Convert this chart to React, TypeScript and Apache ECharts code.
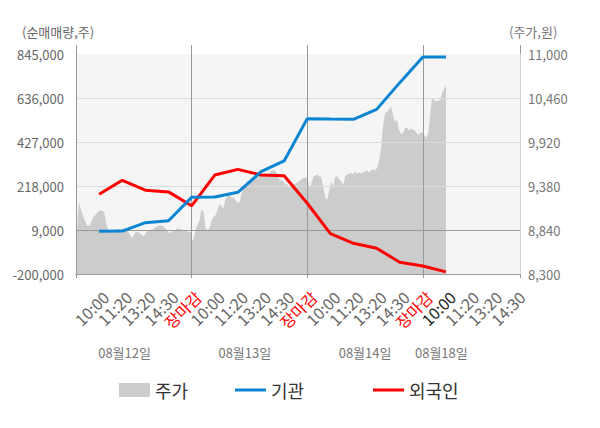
import React, { useEffect, useRef } from 'react';
import * as echarts from 'echarts';

const dates = ['08월12일', '08월13일', '08월14일', '08월18일'];
const dateLabelPos = [2.1, 7.3, 12.5, 15.8];
const timeLabels = ['10:00', '11:20', '13:20', '14:30', '장마감'];
const slotsPerDay = [5, 5, 5, 1];

// 기관 / 외국인 cumulative net buying at each time slot (10:00, 11:20, 13:20, 14:30, close ...)
const institution = [3000, 4000, 44000, 53000, 164000, 166000, 188000, 286000, 337000, 538000, 536000, 535000, 582000, 709000, 831000, 831000];
const foreign = [179000, 245000, 198000, 190000, 124000, 270000, 297000, 270000, 267000, 136000, -8000, -54000, -78000, -144000, -162000, -190000];

// 주가 (price) by day
const priceDay1 = [8590, 9180, 9060, 8970, 8890, 8900, 8990, 9030, 9070, 9080, 9060, 8870, 8830, 8810, 8840, 8850, 8840, 8860, 8850, 8790, 8740, 8810, 8820, 8790, 8760, 8820, 8830, 8840, 8870, 8890, 8900, 8890, 8850, 8800, 8820, 8830, 8860, 8850, 8840, 8830, 8810, 8820];
const priceDay2 = [8710, 8730, 8840, 8900, 8960, 9100, 9060, 8860, 8840, 8860, 8960, 9000, 9020, 9090, 9160, 9130, 9100, 9220, 9260, 9270, 9240, 9240, 9210, 9170, 9180, 9280, 9350, 9380, 9450, 9420, 9440, 9480, 9490, 9500, 9520, 9530, 9520, 9540, 9520, 9520, 9570, 9570, 9560, 9520, 9460, 9450, 9440, 9400, 9400, 9360, 9390, 9400, 9410, 9420, 9440, 9460, 9480, 9480, 9480];
const priceDay3 = [9480, 9370, 9400, 9490, 9510, 9520, 9500, 9490, 9370, 9240, 9210, 9320, 9440, 9370, 9490, 9500, 9460, 9440, 9390, 9500, 9520, 9530, 9540, 9520, 9560, 9530, 9550, 9530, 9550, 9560, 9570, 9550, 9570, 9590, 9570, 9600, 9690, 9830, 10110, 10270, 10290, 10320, 10360, 10250, 10170, 10190, 10070, 10020, 10020, 10090, 10100, 10060, 10090, 10070, 10060, 10020, 10010, 10040, 10030];
const priceDay4 = [10020, 10000, 9970, 10030, 10230, 10440, 10450, 10410, 10430, 10420, 10460, 10520, 10580, 10610];

const LEFT_MIN = -200000;
const LEFT_MAX = 845000;
const LEFT_STEP = 209000;
const RIGHT_MIN = 8300;
const RIGHT_MAX = 11000;
const RIGHT_STEP = 540;
const REF_LINE = 9000;

const leftAxisName = '(순매매량,주)';
const rightAxisName = '(주가,원)';

const FONT = 'Noto Sans CJK KR';

export default function App() {
  const ref = useRef<HTMLDivElement>(null);

  useEffect(() => {
    const chart = echarts.init(ref.current!, null, { renderer: 'svg' });
    const slotsTotal = 5;
    const priceDays = [priceDay1, priceDay2, priceDay3, priceDay4];
    const priceData: number[][] = [];
    priceDays.forEach((arr, d) => {
      const start = d * slotsTotal;
      const span = slotsPerDay[d];
      arr.forEach((v, i) => priceData.push([start + (i * span) / (arr.length - 1), v]));
    });
    const instData = institution.map((v, i) => [i + 1, v]);
    const forData = foreign.map((v, i) => [i + 1, v]);
    const current = institution.length;
    const labelCount = (dates.length - 1) * slotsTotal + timeLabels.length - 1;
    const xMax = 19.2;
    const boundaries = dates.slice(1).map((_, i) => (i + 1) * slotsTotal);

    const fmt = (v: number) => v.toLocaleString('en-US');
    const hiddenAxis = {
      type: 'value',
      min: 0,
      max: xMax,
      axisLine: { show: false, onZero: false },
      axisLabel: { show: false },
      splitLine: { show: false },
    };

    chart.setOption({
      animation: false,
      textStyle: { fontFamily: FONT },
      grid: {
        left: 76,
        right: 80,
        top: 54,
        bottom: 154,
        show: true,
        backgroundColor: '#f5f5f5',
        borderWidth: 0,
      },
      graphic: [
        {
          type: 'text',
          left: 22,
          top: 25,
          style: { text: leftAxisName, fill: '#666', fontSize: 13, fontFamily: FONT },
        },
        {
          type: 'text',
          left: 509,
          top: 25,
          style: { text: rightAxisName, fill: '#777', fontSize: 13, fontFamily: FONT },
        },
      ],
      legend: [
        {
          data: ['주가'], left: 114, top: 376, icon: 'rect', itemWidth: 31, itemHeight: 14,
          itemStyle: { borderWidth: 0 },
          textStyle: { fontSize: 18, color: '#333', fontFamily: FONT },
        },
        {
          data: ['기관'], left: 230, top: 376, icon: 'rect', itemWidth: 31, itemHeight: 3,
          itemStyle: { borderWidth: 0 },
          textStyle: { fontSize: 18, color: '#333', fontFamily: FONT },
        },
        {
          data: ['외국인'], left: 368, top: 376, icon: 'rect', itemWidth: 31, itemHeight: 3,
          itemStyle: { borderWidth: 0 },
          textStyle: { fontSize: 18, color: '#333', fontFamily: FONT },
        },
      ],
      xAxis: [
        {
          type: 'value',
          position: 'bottom',
          min: 0,
          max: xMax,
          interval: 1,
          z: 3,
          axisLine: { show: true, onZero: false, lineStyle: { color: '#999', width: 1 } },
          axisTick: { show: false },
          splitLine: { show: false },
          axisLabel: {
            rotate: 45,
            margin: 15,
            align: 'right',
            verticalAlign: 'top',
            padding: [0, -1, 0, 0],
            fontSize: 16,
            color: '#666',
            fontFamily: FONT,
            showMaxLabel: false,
            formatter: (v: number) => {
              const k = Math.round(v);
              if (Math.abs(v - k) > 1e-6 || k < 1 || k > labelCount) return '';
              const t = timeLabels[(k - 1) % slotsTotal];
              if (t === '장마감') return `{close|${t}}`;
              if (k === current) return `{now|${t}}`;
              return t;
            },
            rich: {
              close: { color: '#ff0000', fontSize: 16, fontFamily: FONT },
              now: { color: '#222222', fontSize: 16, fontFamily: FONT },
            },
          },
        },
        {
          ...hiddenAxis,
          position: 'top',
          interval: slotsTotal,
          axisTick: { show: true, length: 9, lineStyle: { color: '#999' } },
        },
        {
          ...hiddenAxis,
          position: 'bottom',
          interval: slotsTotal,
          axisTick: { show: true, length: 4, lineStyle: { color: '#999' } },
        },
        {
          ...hiddenAxis,
          position: 'bottom',
          offset: 64,
          interval: 0.1,
          axisTick: { show: false },
          axisLabel: {
            show: true,
            margin: 8,
            fontSize: 13,
            color: '#777',
            fontFamily: FONT,
            formatter: (v: number) => {
              const idx = dateLabelPos.findIndex((p) => Math.abs(p - v) < 1e-6);
              return idx >= 0 ? dates[idx] : '';
            },
          },
        },
      ],
      yAxis: [
        {
          type: 'value',
          position: 'left',
          min: LEFT_MIN,
          max: LEFT_MAX,
          interval: LEFT_STEP,
          z: 2,
          axisLine: { show: true, onZero: false, lineStyle: { color: '#999' } },
          axisTick: { show: false },
          axisLabel: { color: '#666', fontSize: 13, margin: 12, fontFamily: FONT, formatter: fmt },
          splitLine: { show: true, showMinLine: false, showMaxLine: false, lineStyle: { color: '#dcdcdc', width: 1 } },
        },
        {
          type: 'value',
          position: 'right',
          min: RIGHT_MIN,
          max: RIGHT_MAX,
          interval: RIGHT_STEP,
          z: 2,
          axisLine: { show: true, onZero: false, lineStyle: { color: '#d0d0d0' } },
          axisTick: { show: false },
          axisLabel: { color: '#777', fontSize: 13, margin: 8, fontFamily: FONT, formatter: fmt },
          splitLine: { show: false },
        },
      ],
      series: [
        {
          name: '주가',
          type: 'line',
          xAxisIndex: 0,
          yAxisIndex: 1,
          data: priceData,
          symbol: 'none',
          showSymbol: false,
          color: '#cccccc',
          lineStyle: { width: 0, color: '#cccccc' },
          areaStyle: { color: '#cccccc', opacity: 1 },
          silent: true,
          z: 1,
        },
        {
          name: '외국인',
          type: 'line',
          xAxisIndex: 0,
          yAxisIndex: 0,
          data: forData,
          symbol: 'none',
          showSymbol: false,
          color: '#ff0000',
          lineStyle: { width: 3, color: '#ff0000' },
          z: 4,
          markLine: {
            silent: true,
            symbol: 'none',
            z: 3,
            label: { show: false },
            lineStyle: { color: '#999', width: 1, type: 'solid' },
            data: [...boundaries.map((b) => ({ xAxis: b })), { yAxis: REF_LINE }],
          },
        },
        {
          name: '기관',
          type: 'line',
          xAxisIndex: 0,
          yAxisIndex: 0,
          data: instData,
          symbol: 'none',
          showSymbol: false,
          color: '#0a85d1',
          lineStyle: { width: 3, color: '#0a85d1' },
          z: 5,
        },
      ],
    });
    return () => chart.dispose();
  }, []);

  return <div ref={ref} style={{ position: 'absolute', left: 0, top: 0, width: 600, height: 428 }} />;
}
